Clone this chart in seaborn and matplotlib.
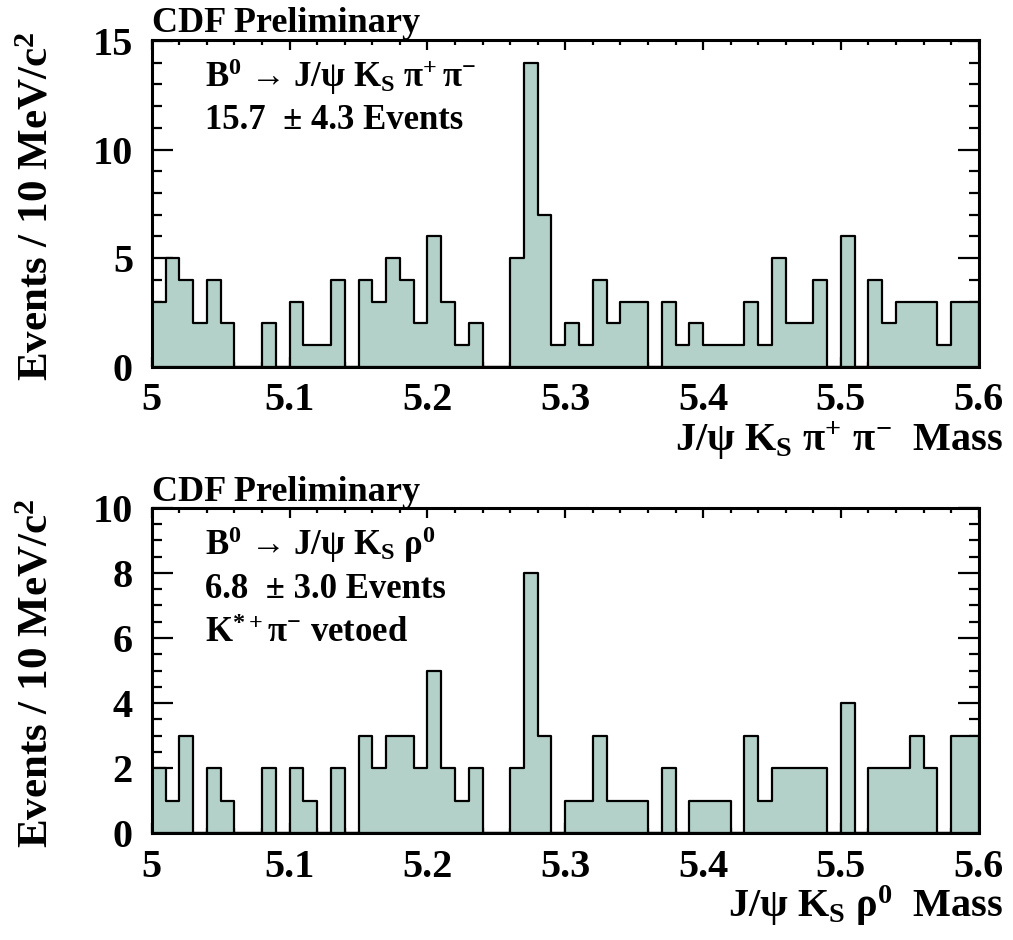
import numpy as np
import pandas as pd
import matplotlib
matplotlib.use("Agg")
import matplotlib.pyplot as plt
import seaborn as sns
from matplotlib.ticker import MultipleLocator

# ---------------- data ----------------
mass_lo = 5.0
mass_hi = 5.6
n_bins = 60

top_counts = [3, 5, 4, 2, 4, 2, 0, 0, 2, 0,
              3, 1, 1, 4, 0, 4, 3, 5, 4, 2,
              6, 3, 1, 2, 0, 0, 5, 14, 7, 1,
              2, 1, 4, 2, 3, 3, 0, 3, 1, 2,
              1, 1, 1, 3, 1, 5, 2, 2, 4, 0,
              6, 0, 4, 2, 3, 3, 3, 1, 3, 3]

bot_counts = [2, 1, 3, 0, 2, 1, 0, 0, 2, 0,
              2, 1, 0, 2, 0, 3, 2, 3, 3, 2,
              5, 2, 1, 2, 0, 0, 2, 8, 3, 0,
              1, 1, 3, 1, 1, 1, 0, 2, 0, 1,
              1, 1, 0, 3, 1, 2, 2, 2, 2, 0,
              4, 0, 2, 2, 2, 3, 2, 0, 3, 3]

x_tick_values = [5.0, 5.1, 5.2, 5.3, 5.4, 5.5, 5.6]
x_tick_labels = ["5", "5.1", "5.2", "5.3", "5.4", "5.5", "5.6"]
top_y_ticks = [0, 5, 10, 15]
bot_y_ticks = [0, 2, 4, 6, 8, 10]

fill_color = "#b3d1c9"

# ---------------- style ----------------
sns.set_style("white")
plt.rcParams["font.family"] = ["Liberation Serif", "DejaVu Serif"]
plt.rcParams["font.weight"] = "bold"
plt.rcParams["text.color"] = "black"
plt.rcParams["axes.labelcolor"] = "black"
plt.rcParams["xtick.color"] = "black"
plt.rcParams["ytick.color"] = "black"
plt.rcParams["mathtext.fontset"] = "custom"
plt.rcParams["mathtext.rm"] = "Liberation Serif:bold"
plt.rcParams["mathtext.bf"] = "Liberation Serif:bold"
plt.rcParams["mathtext.it"] = "Liberation Serif:bold"
plt.rcParams["mathtext.sf"] = "Liberation Serif"

edges = np.linspace(mass_lo, mass_hi, n_bins + 1)
centers = 0.5 * (edges[:-1] + edges[1:])

fig = plt.figure(figsize=(10.13, 9.40), dpi=100)
ax_top = fig.add_axes([0.1498, 0.6099, 0.8164, 0.3476])
ax_bot = fig.add_axes([0.1498, 0.1135, 0.8164, 0.3464])

ylabel = r"Events / 10 MeV/c$^{\mathbf{2}}$"


def style_axis(ax, counts, yticks, ymax, yminor, xlabel, cdf_y):
    df = pd.DataFrame({"mass": centers, "count": np.asarray(counts, float)})
    sns.histplot(data=df, x="mass", weights="count", bins=n_bins,
                 binrange=(mass_lo, mass_hi), element="step",
                 fill=True, color=fill_color, edgecolor="black",
                 linewidth=1.6, alpha=1.0, ax=ax)
    ax.set_xlim(mass_lo, mass_hi)
    ax.set_ylim(0, ymax)
    ax.set_xticks(x_tick_values)
    ax.set_xticklabels(x_tick_labels)
    ax.set_yticks(yticks)
    ax.set_yticklabels([str(v) for v in yticks])
    ax.xaxis.set_minor_locator(MultipleLocator(0.02))
    ax.yaxis.set_minor_locator(MultipleLocator(yminor))
    ax.tick_params(axis="x", which="major", direction="in", length=7.5,
                   width=1.6, top=True, bottom=True, labelsize=29, pad=11)
    ax.tick_params(axis="x", which="minor", direction="in", length=3.8,
                   width=1.6, top=True, bottom=True)
    ax.tick_params(axis="y", which="major", direction="in", length=15,
                   width=1.6, left=True, right=True, labelsize=29, pad=13.5)
    ax.tick_params(axis="y", which="minor", direction="in", length=7.5,
                   width=1.6, left=True, right=True)
    for lab in ax.get_xticklabels() + ax.get_yticklabels():
        lab.set_fontweight("bold")
    for sp in ax.spines.values():
        sp.set_linewidth(2.2)
        sp.set_color("black")
    ax.set_xlabel(xlabel, fontsize=29, fontweight="bold", loc="right",
                  va="baseline")
    ax.xaxis.set_label_coords(1.029, -0.258)
    ax.set_ylabel(ylabel, fontsize=31, fontweight="bold")
    ax.yaxis.set_label_coords(-0.115, 0.49)
    ax.text(0.0, cdf_y, "CDF Preliminary", transform=ax.transAxes,
            fontsize=26, fontweight="bold", ha="left", va="baseline")


style_axis(ax_top, top_counts, top_y_ticks, 15.05, 1,
           r"J/$\mathsf{ψ}$ K$_{\mathbf{S}}$ $\mathsf{π^{+}\ π^{-}}$  Mass",
           1.025)
style_axis(ax_bot, bot_counts, bot_y_ticks, 10.0, 0.5,
           r"J/$\mathsf{ψ}$ K$_{\mathbf{S}}$ $\mathsf{ρ^{\mathbf{0}}}$  Mass",
           1.02)

ann_kw = dict(fontsize=25, fontweight="bold", ha="left", va="baseline")
ax_top.text(0.064, 0.855,
            r"B$^{\mathbf{0}}$ → J/$\mathsf{ψ}$ K$_{\mathbf{S}}$ $\mathsf{π^{+}\,π^{-}}$",
            transform=ax_top.transAxes, **ann_kw)
ax_top.text(0.064, 0.727, "15.7  ± 4.3 Events",
            transform=ax_top.transAxes, **ann_kw)

ax_bot.text(0.064, 0.855,
            r"B$^{\mathbf{0}}$ → J/$\mathsf{ψ}$ K$_{\mathbf{S}}$ $\mathsf{ρ^{\mathbf{0}}}$",
            transform=ax_bot.transAxes, **ann_kw)
ax_bot.text(0.064, 0.722, "6.8  ± 3.0 Events",
            transform=ax_bot.transAxes, **ann_kw)
ax_bot.text(0.064, 0.588, r"K$^{\mathbf{*+}}$$\mathsf{π^{-}}$ vetoed",
            transform=ax_bot.transAxes, **ann_kw)

fig.savefig("out.png", dpi=100, facecolor="white")
